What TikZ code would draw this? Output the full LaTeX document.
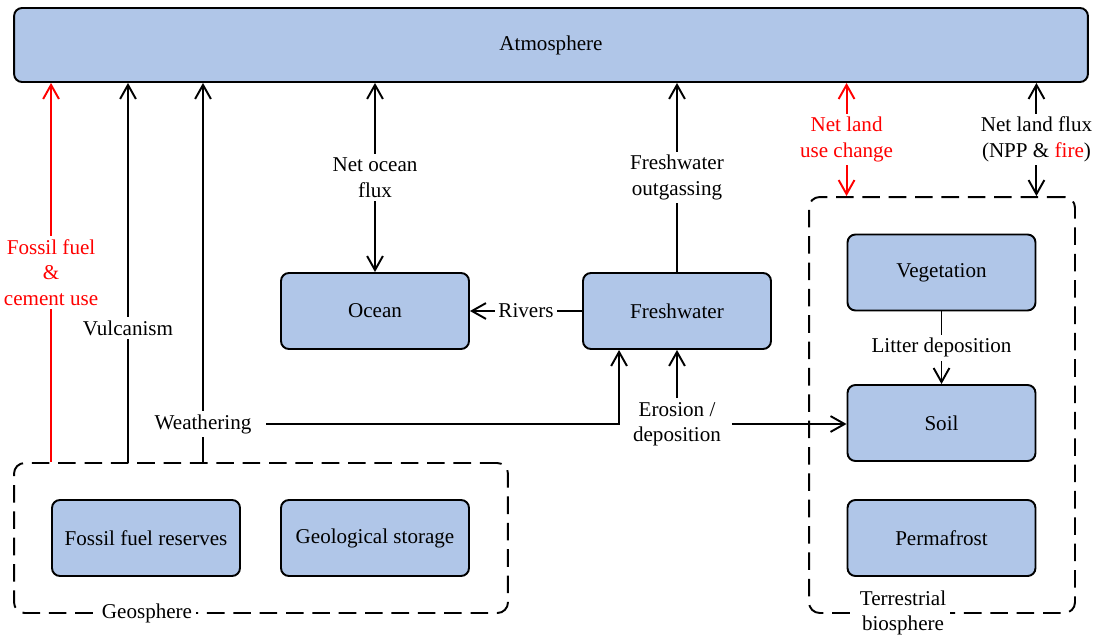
\documentclass[tikz,border=0pt]{standalone}
\usepackage{fontspec}
\setmainfont{LiberationSerif}[Extension=.ttf, UprightFont=*-Regular, BoldFont=*-Bold, ItalicFont=*-Italic, BoldItalicFont=*-BoldItalic]
\usetikzlibrary{arrows.meta}
\definecolor{boxblue}{RGB}{176,198,232}
\begin{document}
\begin{tikzpicture}[x=0.02cm, y=-0.02cm, font=\fontsize{12}{14.5}\selectfont,
  pool/.style={draw, line width=1.1pt, rounded corners=4.5pt, fill=boxblue, minimum width=3.76cm, minimum height=1.52cm, inner sep=0pt},
  sphere/.style={draw, line width=1.1pt, dash pattern=on 10pt off 5pt, rounded corners=6pt, inner sep=0pt},
  flux/.style={line width=1.1pt, -{Straight Barb[length=8pt,width=9pt]}},
  twoway/.style={line width=1.1pt, {Straight Barb[length=8pt,width=9pt]}-{Straight Barb[length=8pt,width=9pt]}},
  lbl/.style={fill=white, inner sep=2pt, align=center}]
\useasboundingbox (0,0) rectangle (1102,639);

\node[pool, minimum width=21.48cm, minimum height=1.48cm] (atm) at (551,45) {Atmosphere};
\node[sphere, minimum width=9.88cm, minimum height=3cm] (geosph) at (261,538) {};
\node[sphere, minimum width=5.32cm, minimum height=8.32cm] (terr) at (942,405) {};
\node[lbl] (geolbl) at (147,613) {Geosphere};
\node[lbl] (terrlbl) at (903,613) {Terrestrial\\biosphere};

\node[pool] (ocean) at (375,311) {Ocean};
\node[pool] (fresh) at (677,311) {Freshwater};
\node[pool] (veg) at (941.5,272.5) {Vegetation};
\node[pool] (soil) at (941.5,423) {Soil};
\node[pool] (perma) at (941.5,538) {Permafrost};
\node[pool] (ffres) at (146,538) {Fossil fuel reserves};
\node[pool] (geostore) at (375,538) {Geological storage};

\coordinate (vulcbase) at (128,463);
\coordinate (weathbase) at (203,463);

\draw[flux, red] (ffres.west |- geosph.north) -- node[lbl, text=red] {Fossil fuel\\\&\\cement use} (ffres.west |- atm.south);
\draw[flux] (vulcbase) -- node[lbl, pos=0.354] {Vulcanism} (vulcbase |- atm.south);
\draw[flux] (weathbase) -- node[lbl, pos=0.102] (weath) {Weathering} (weathbase |- atm.south);
\draw[flux, shorten <=6pt] (weath.east) -| ([xshift=0.74cm]fresh.south west);

\draw[twoway] (ocean.north) -- node[lbl] {Net ocean\\flux} (ocean.north |- atm.south);
\draw[flux] (fresh.north) -- node[lbl] {Freshwater\\outgassing} (fresh.north |- atm.south);
\draw[flux] (fresh.west) -- node[lbl] {Rivers} (ocean.east);

\node[lbl] (eros) at (677,424) {Erosion /\\deposition};
\draw[flux] (eros.north) -- (fresh.south);
\draw[flux, shorten <=4pt] (eros.east) -- (eros.east -| soil.west);

\draw[twoway, red] (veg.west |- terr.north) -- node[lbl, text=red] {Net land\\use change} (veg.west |- atm.south);
\draw[twoway] (veg.east |- terr.north) -- node[lbl] {Net land flux\\(NPP \& \textcolor{red}{fire})} (veg.east |- atm.south);
\draw[flux] (veg.south) -- node[lbl] {Litter deposition} (soil.north);
\end{tikzpicture}
\end{document}
